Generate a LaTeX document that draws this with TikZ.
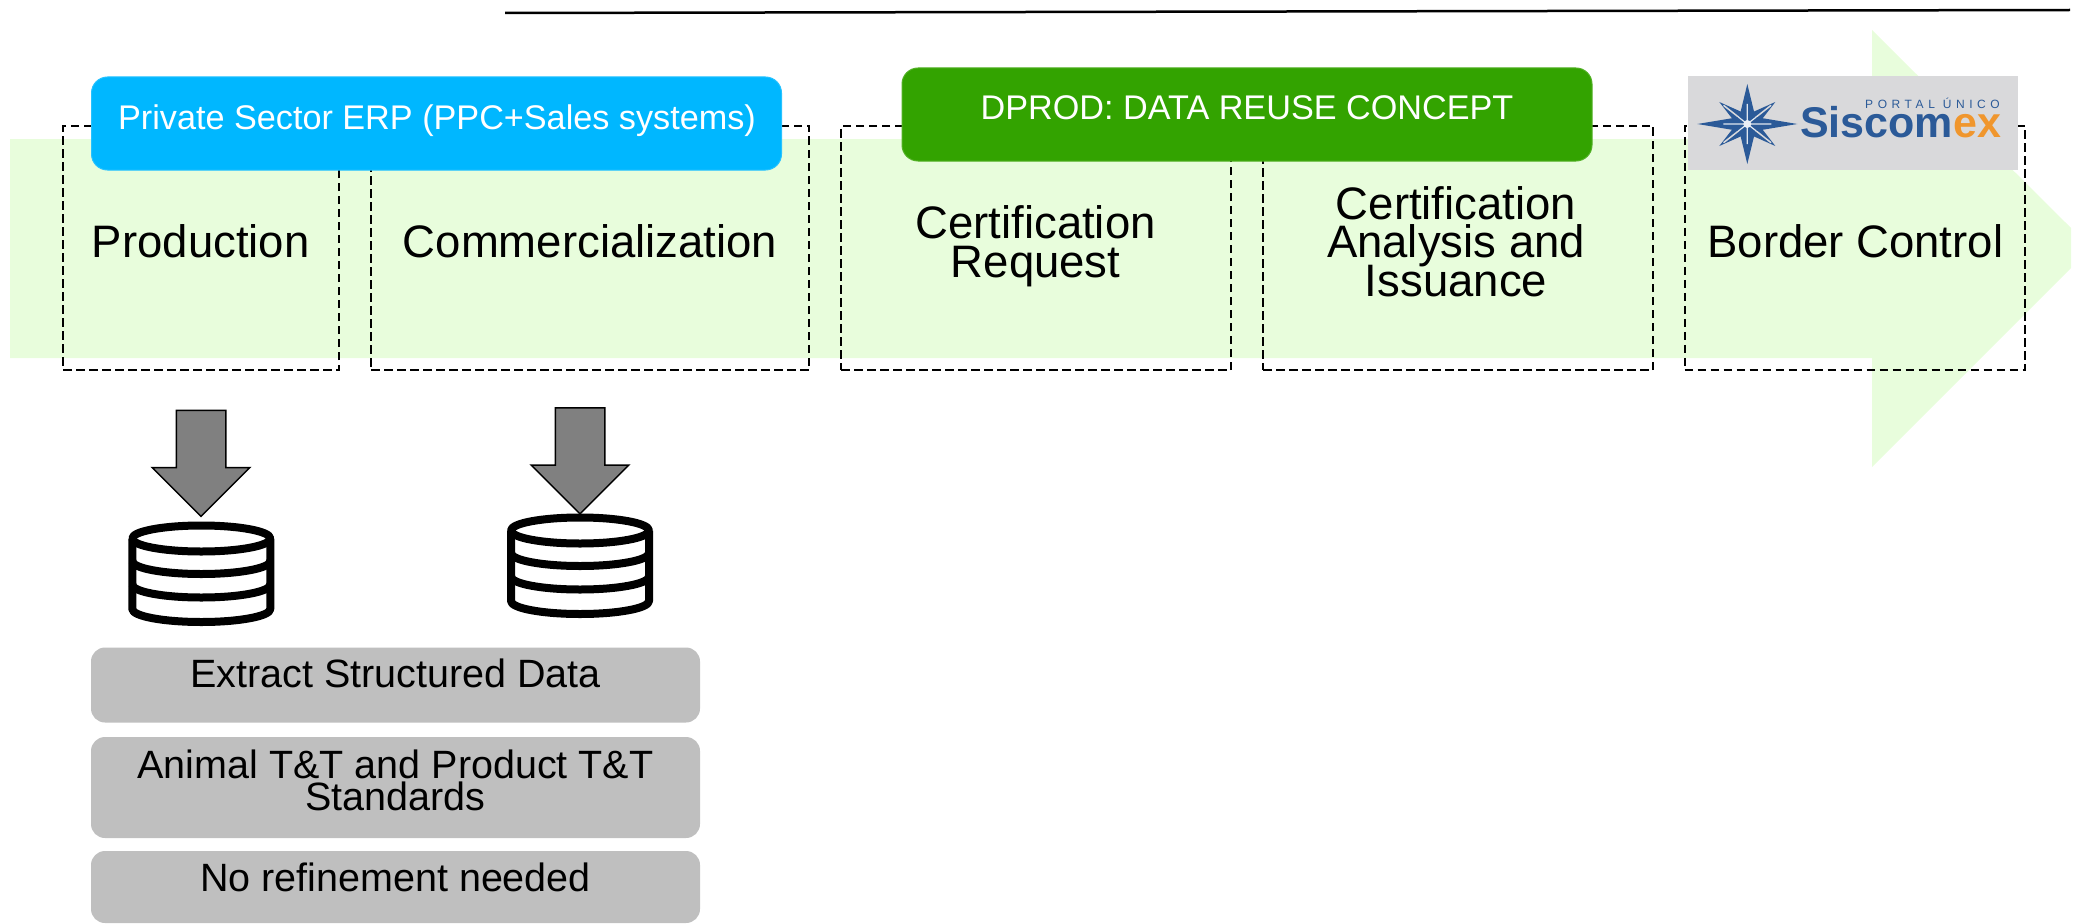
\documentclass[tikz,border=0pt]{standalone}
\usepackage{fontspec}
\setmainfont{Liberation Sans}
\newfontfamily\portalfont[LetterSpace=38]{Liberation Sans}
\usetikzlibrary{shapes.arrows}
\definecolor{band color}{HTML}{E8FDDC}
\definecolor{erp color}{HTML}{00B7FF}
\definecolor{dprod color}{HTML}{33A300}
\definecolor{refine color}{HTML}{BFBFBF}
\definecolor{logo color}{HTML}{D9D9DB}
\definecolor{siscom blue}{HTML}{2B5A98}
\definecolor{siscom orange}{HTML}{F0962D}
\tikzset{
    x={1pt},
    y={-1pt},
    stage box/.style={
        draw=black,
        line width={2pt},
        dash pattern=on 8.5pt off 4.5pt,
        outer sep=0pt, inner sep=0pt,
    },
    system box/.style={
        fill={#1},
        draw={#1!85!white},
        line width={1pt},
        rounded corners={16pt},
        outer sep=0pt, inner sep=0pt,
        minimum width={690},
        minimum height={93},
    },
    refine box/.style={
        fill=refine color,
        rounded corners={14pt},
        outer sep=0pt, inner sep=0pt,
        minimum width={609},
    },
    stage label/.style={
        anchor=base,
        align=center,
        inner sep=0pt,
        font={\fontsize{45.5}{38.5}\selectfont\lineskiplimit=-100pt},
    },
    system label/.style={
        anchor=base,
        inner sep=0pt,
        text=white,
        font={\fontsize{34.2}{38}\selectfont},
    },
    refine label/.style={
        anchor=base,
        align=center,
        inner sep=0pt,
        font={\fontsize{39.5}{31.5}\selectfont\lineskiplimit=-100pt},
    },
    flow arrow/.style={
        draw=black, fill=black!50,
        line width={1.5pt},
        single arrow,
        shape border rotate=270,
        single arrow tip angle=90,
        single arrow head extend={24},
        inner sep=0pt, outer sep=0pt,
        text width={48pt},
        text height={48pt},
        minimum width={96},
        minimum height={106},
    },
    database line/.style={
        draw=black,
        line width={8pt},
        line join=round,
    },
    database/.pic={
        \path[database line] (0,0) ellipse [x radius=69, y radius=13];
        \path[database line] (-69,0) -- (-69,70.5) arc [start angle=180, end angle=0, x radius=69, y radius=13] -- (69,0);
        \path[database line] (-69,22.5) arc [start angle=180, end angle=0, x radius=69, y radius=13];
        \path[database line] (-69,46) arc [start angle=180, end angle=0, x radius=69, y radius=13];
    },
}

\begin{document}
\begin{tikzpicture}
\useasboundingbox (0,0) rectangle (2076,923);
% top rule
\draw[line width={2.5pt}] (505,13) -- (2070,10);
% background band
\path[fill=band color] (10,139) -- (1872,139) -- (1872,30) -- (2071,228) -- (2071,268) -- (1872,467) -- (1872,358) -- (10,358) -- cycle;
% stages
\node[stage box, minimum width={276}, minimum height={244}] (production box) at (201,248) {};
\node[stage box, minimum width={438}, minimum height={244}] (commercialization box) at (590,248) {};
\node[stage box, minimum width={390}, minimum height={244}] (request box) at (1036,248) {};
\node[stage box, minimum width={390}, minimum height={244}] (issuance box) at (1458,248) {};
\node[stage box, minimum width={340.6}, minimum height={244}] (border box) at (1855,248) {};
\node[stage label] (production label) at (200.7,257) {Production};
\node[stage label] (commercialization label) at (590,257) {Commercialization};
\node[stage label] (request label) at (1035.6,277) {Certification\\Request};
\node[stage label] (issuance label) at (1456,296) {Certification\\Analysis and\\Issuance};
\node[stage label] (border label) at (1855.3,257) {Border Control};
% systems
\node[system box={erp color}] (erp box) at (436.5,123.5) {};
\node[system box={dprod color}] (dprod box) at (1247,114.5) {};
\node[system label] (erp label) at (437,129) {Private Sector ERP (PPC+Sales systems)};
\node[system label] (dprod label) at (1247,120) {DPROD: DATA REUSE CONCEPT};
% logo
\node[fill=logo color, inner sep=0pt, minimum width={330.3}, minimum height={94}] (logo box) at (1852.9,123) {};
\begin{scope}[shift={(1747.3,124)}]
\foreach \tipx/\tipy in {28/22, -28/22, 28/-22, -28/-22} {
    \path[fill=siscom blue] (0,0) -- (\tipx*0.2+\tipy*0.2,\tipy*0.2-\tipx*0.2) -- (\tipx,\tipy) -- (\tipx*0.2-\tipy*0.2,\tipy*0.2+\tipx*0.2) -- cycle;
    \draw[logo color, line width={1.5pt}] (\tipx*0.2,\tipy*0.2) -- (\tipx*0.85,\tipy*0.85);
}
\path[fill=siscom blue] (50,0) -- (8,-7) -- (0,-40) -- (-8,-7) -- (-50,0) -- (-8,7) -- (0,40) -- (8,7) -- cycle;
\draw[white!85!siscom blue, line width={1.2pt}] (-24,0) -- (24,0) (0,-20) -- (0,20) (-9,-7) -- (9,7) (-9,7) -- (9,-7);
\path[fill=white!90!siscom blue] (0,0) circle [radius=4];
\end{scope}
\node[anchor=base west, inner sep=0pt, text=siscom blue, font={\portalfont\fontsize{12}{12}\selectfont}] (portal label) at (1865,109) {PORTAL ÚNICO};
\node[anchor=base west, inner sep=0pt, text=siscom blue, font={\bfseries\fontsize{43}{43}\selectfont}] (siscom label) at (1800,137) {Siscom\textcolor{siscom orange}{ex}};
% arrows and databases
\node[flow arrow] (production arrow) at (201,451) {};
\node[flow arrow] (commercialization arrow) at (580,448.5) {};
\pic at (201.3,538.5) {database};
\pic at (580,530.5) {database};
% refinements
\node[refine box, minimum height={75}] (extract box) at (395.5,685) {};
\node[refine box, minimum height={101}] (standards box) at (395.5,787.5) {};
\node[refine box, minimum height={72}] (refinement box) at (395.5,887) {};
\node[refine label] (extract label) at (395.5,687.5) {Extract Structured Data};
\node[refine label] (standards label) at (395.5,810) {Animal T\&T and Product T\&T\\Standards};
\node[refine label] (refinement label) at (395.5,891) {No refinement needed};
\end{tikzpicture}
\end{document}
